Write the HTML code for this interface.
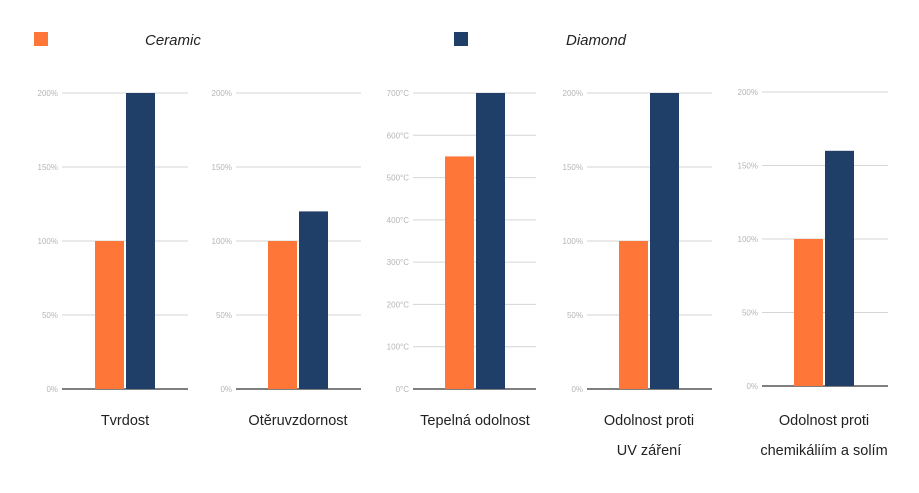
<!DOCTYPE html>
<html><head><meta charset="utf-8">
<style>
body{margin:0;background:#fff;width:919px;height:493px;overflow:hidden;font-family:"Liberation Sans",sans-serif;}
svg{display:block}
</style></head>
<body>
<svg id="c" width="919" height="493">
  <g>
    <rect x="34" y="32" width="14" height="14" fill="#fe7638"/>
    <text x="145" y="45" font-size="15" font-style="italic" fill="#222">Ceramic</text>
    <rect x="454" y="32" width="14" height="14" fill="#203f68"/>
    <text x="566" y="45" font-size="15" font-style="italic" fill="#222">Diamond</text>
  </g>
</svg>
<script>
const categories = [["Tvrdost"],["Otěruvzdornost"],["Tepelná odolnost"],["Odolnost proti","UV záření"],["Odolnost proti","chemikáliím a solím"]];
const ceramicValues = [100, 100, 550, 100, 100];
const diamondValues = [200, 120, 700, 200, 160];
const axisMax = [200, 200, 700, 200, 200];
const tickStep = [50, 50, 100, 50, 50];
const tickUnit = ["%", "%", "°C", "%", "%"];

const panels = [
  {x0:62,x1:188,top:93,bot:389,ox:95},
  {x0:236,x1:361,top:93,bot:389,ox:268},
  {x0:413,x1:536,top:93,bot:389,ox:445},
  {x0:587,x1:712,top:93,bot:389,ox:619},
  {x0:762,x1:888,top:92,bot:386,ox:794}
];
const NS="http://www.w3.org/2000/svg";
const svg=document.getElementById('c');
function mk(tag,attrs,parent){const e=document.createElementNS(NS,tag);for(const k in attrs)e.setAttribute(k,attrs[k]);parent.appendChild(e);return e;}
categories.forEach((cat,i)=>{
  const p=panels[i];
  const g=mk('g',{},svg);
  
  
  const y=v=>p.bot-(v/axisMax[i])*(p.bot-p.top);
  for(let v=0;v<=axisMax[i];v+=tickStep[i]){
    const l=mk('line',{x1:p.x0,x2:p.x1,y1:y(v),y2:y(v),stroke:v===0?'#555':'#d6d6d6','stroke-width':v===0?1.5:1},g);
    
    
    const t=mk('text',{x:p.x0-4,y:y(v)+3,'font-size':8,fill:'#b5b5b5','text-anchor':'end'},g);
    t.textContent=v+tickUnit[i];
    
    
  }
  const bw=29;
  const b1=mk('rect',{x:p.ox,y:y(ceramicValues[i]),width:bw,height:p.bot-y(ceramicValues[i]),fill:'#fe7638'},g);
  
  
  const b2=mk('rect',{x:p.ox+31,y:y(diamondValues[i]),width:bw,height:p.bot-y(diamondValues[i]),fill:'#203f68'},g);
  
  
  const cx=p.ox+30;
  cat.forEach((line,j)=>{
    const t=mk('text',{x:cx,y:425+30*j,'font-size':14.5,fill:'#222','text-anchor':'middle'},g);
    t.textContent=line;
    
    
  });
});
</script>
</body></html>
